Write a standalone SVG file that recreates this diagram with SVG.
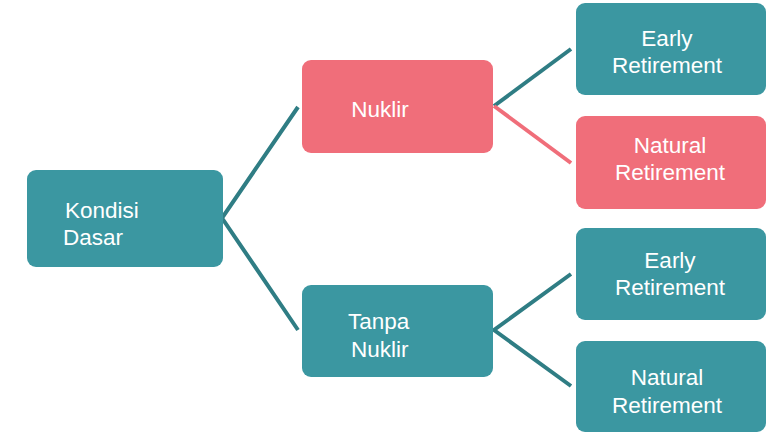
<svg xmlns="http://www.w3.org/2000/svg" width="768" height="433" viewBox="0 0 768 433">
<style>
.t{fill:#3B97A1}
.p{fill:#F06E7A}
text{font-family:"Liberation Sans",Arial,sans-serif;font-size:22.5px;fill:#ffffff}
.lt{stroke:#2F7D84;stroke-width:4;fill:none}
.lp{stroke:#F06E7A;stroke-width:4;fill:none}
</style>
<rect width="768" height="433" fill="#ffffff"/>
<g id="connectors">
<polyline class="lt" points="298,107 222,218 298,330"/>
<polyline class="lt" points="571,49 494,106"/>
<polyline class="lp" points="494,106 571,163"/>
<polyline class="lt" points="571,274 494,330 571,386"/>
</g>
<g id="kondisi"><rect class="t" x="27" y="170" width="196" height="97" rx="9"/><text x="65" y="218">Kondisi</text><text x="63" y="245">Dasar</text></g>
<g id="nuklir"><rect class="p" x="302" y="60" width="191" height="93" rx="9"/><text x="380" y="117" text-anchor="middle">Nuklir</text></g>
<g id="tanpa"><rect class="t" x="302" y="285" width="191" height="92" rx="9"/><text x="348" y="329">Tanpa</text><text x="351" y="357">Nuklir</text></g>
<g id="early1"><rect class="t" x="576" y="3" width="190" height="92" rx="9"/><text x="667" y="46" text-anchor="middle">Early</text><text x="667" y="73" text-anchor="middle">Retirement</text></g>
<g id="natural1"><rect class="p" x="576" y="116" width="190" height="93" rx="9"/><text x="670" y="153" text-anchor="middle">Natural</text><text x="670" y="180" text-anchor="middle">Retirement</text></g>
<g id="early2"><rect class="t" x="576" y="228" width="190" height="92" rx="9"/><text x="670" y="268" text-anchor="middle">Early</text><text x="670" y="295" text-anchor="middle">Retirement</text></g>
<g id="natural2"><rect class="t" x="576" y="341" width="190" height="91" rx="9"/><text x="667" y="385" text-anchor="middle">Natural</text><text x="667" y="413" text-anchor="middle">Retirement</text></g>
</svg>
